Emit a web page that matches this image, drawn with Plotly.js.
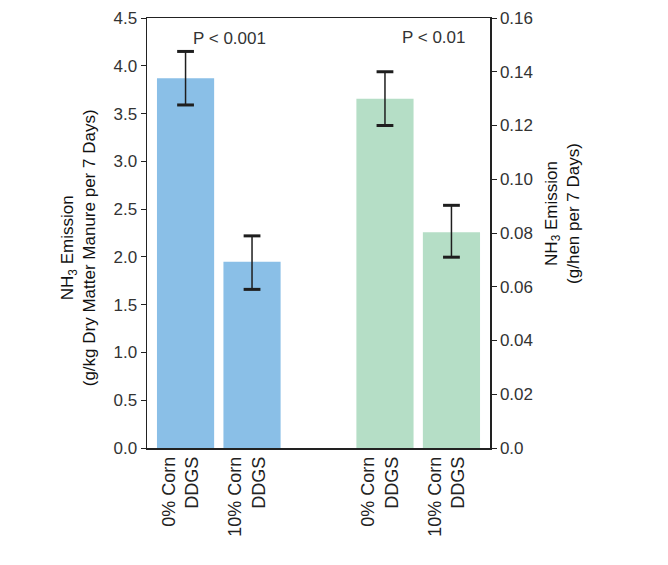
<!DOCTYPE html>
<html>
<head>
<meta charset="utf-8">
<script src="https://cdn.plot.ly/plotly-3.0.1.min.js"></script>
<style>html,body{margin:0;padding:0;background:#fff;}#chart{width:668px;height:565px;}</style>
</head>
<body>
<div id="chart"></div>
<script>
// Data
const categories = ["0% Corn<br>DDGS", "10% Corn<br>DDGS", "0% Corn<br>DDGS", "10% Corn<br>DDGS"];
const positions = [0, 1, 3, 4];
// Left axis: g/kg dry matter manure per 7 days
const manureValues = [3.87, 1.95];
const manureErrPlus = [0.28, 0.27];
const manureErrMinus = [0.28, 0.29];
// Right axis: g/hen per 7 days
const henValues = [0.130, 0.0803];
const henErrPlus = [0.010, 0.0100];
const henErrMinus = [0.010, 0.0093];
const pLabels = ["P < 0.001", "P < 0.01"];
const leftTicks = [0, 0.5, 1.0, 1.5, 2.0, 2.5, 3.0, 3.5, 4.0, 4.5];
const rightTicks = [0, 0.02, 0.04, 0.06, 0.08, 0.10, 0.12, 0.14, 0.16];
const rightTickText = ["0.0", "0.02", "0.04", "0.06", "0.08", "0.10", "0.12", "0.14", "0.16"];

const blue = "rgb(138,191,231)";
const green = "rgb(181,222,198)";
const errColor = "#1e1e1e";
const font = "Liberation Sans, Arial, sans-serif";

const xLeft = positions.slice(0, 2);
const xRight = positions.slice(2, 4);

const traces = [
  {
    type: "bar", x: xLeft, y: manureValues, width: 0.86,
    marker: {color: blue}, yaxis: "y",
    error_y: {type: "data", array: manureErrPlus, arrayminus: manureErrMinus, color: errColor, thickness: 1.5, width: 0},
    hoverinfo: "none", showlegend: false
  },
  {
    type: "bar", x: xRight, y: henValues, width: 0.86,
    marker: {color: green}, yaxis: "y2",
    error_y: {type: "data", array: henErrPlus, arrayminus: henErrMinus, color: errColor, thickness: 1.5, width: 0},
    hoverinfo: "none", showlegend: false
  },
  // error bar caps
  {
    type: "scatter", mode: "markers", yaxis: "y",
    x: xLeft.concat(xLeft),
    y: manureValues.map((v, i) => v + manureErrPlus[i]).concat(manureValues.map((v, i) => v - manureErrMinus[i])),
    marker: {symbol: "line-ew-open", size: 12, color: errColor, line: {width: 3, color: errColor}},
    hoverinfo: "none", showlegend: false
  },
  {
    type: "scatter", mode: "markers", yaxis: "y2",
    x: xRight.concat(xRight),
    y: henValues.map((v, i) => v + henErrPlus[i]).concat(henValues.map((v, i) => v - henErrMinus[i])),
    marker: {symbol: "line-ew-open", size: 12, color: errColor, line: {width: 3, color: errColor}},
    hoverinfo: "none", showlegend: false
  }
];

const layout = {
  width: 668, height: 565,
  margin: {l: 147, r: 178, t: 18, b: 117, pad: 0},
  paper_bgcolor: "#fff", plot_bgcolor: "#fff",
  font: {family: font, color: "#333"},
  showlegend: false,
  xaxis: {
    range: [-0.58, 4.58],
    tickvals: positions, ticktext: categories,
    tickangle: -90, ticks: "", ticklabelshift: -5,
    tickfont: {size: 18, color: "#222", family: font},
    showline: true, mirror: true, linecolor: "#222", linewidth: 1.5,
    showgrid: false, zeroline: false, fixedrange: true
  },
  yaxis: {
    range: [0, 4.5], tickvals: leftTicks, tickformat: ".1f",
    ticks: "outside", ticklen: 5, tickcolor: "#222", tickwidth: 1,
    tickfont: {size: 17, color: "#333", family: font},
    showline: true, linecolor: "#222", linewidth: 1.5,
    showgrid: false, zeroline: false, fixedrange: true
  },
  yaxis2: {
    range: [0, 0.16], overlaying: "y", side: "right",
    tickvals: rightTicks, ticktext: rightTickText,
    ticks: "outside", ticklen: 5, tickcolor: "#222", tickwidth: 1,
    tickfont: {size: 17, color: "#333", family: font},
    showline: true, linecolor: "#222", linewidth: 1.5,
    showgrid: false, zeroline: false, fixedrange: true
  },
  annotations: [
    {text: pLabels[0], xref: "x", yref: "y", x: 0.66, y: 4.29, showarrow: false,
     font: {size: 17, color: "#333", family: font}},
    {text: pLabels[1], xref: "x", yref: "y", x: 3.73, y: 4.30, showarrow: false,
     font: {size: 17, color: "#333", family: font}},
    {text: "NH<sub>3</sub> Emission<br>(g/kg Dry Matter Manure per 7 Days)", xref: "paper", yref: "paper",
     x: -0.135, y: 0.465, xanchor: "right", yanchor: "middle", textangle: -90, showarrow: false,
     font: {size: 17, color: "#111", family: font}},
    {text: "NH<sub>3</sub> Emission<br>(g/hen per 7 Days)", xref: "paper", yref: "paper",
     x: 1.145, y: 0.545, xanchor: "left", yanchor: "middle", textangle: -90, showarrow: false,
     font: {size: 17, color: "#111", family: font}}
  ]
};

Plotly.newPlot("chart", traces, layout, {displayModeBar: false, staticPlot: true});
</script>
</body>
</html>
